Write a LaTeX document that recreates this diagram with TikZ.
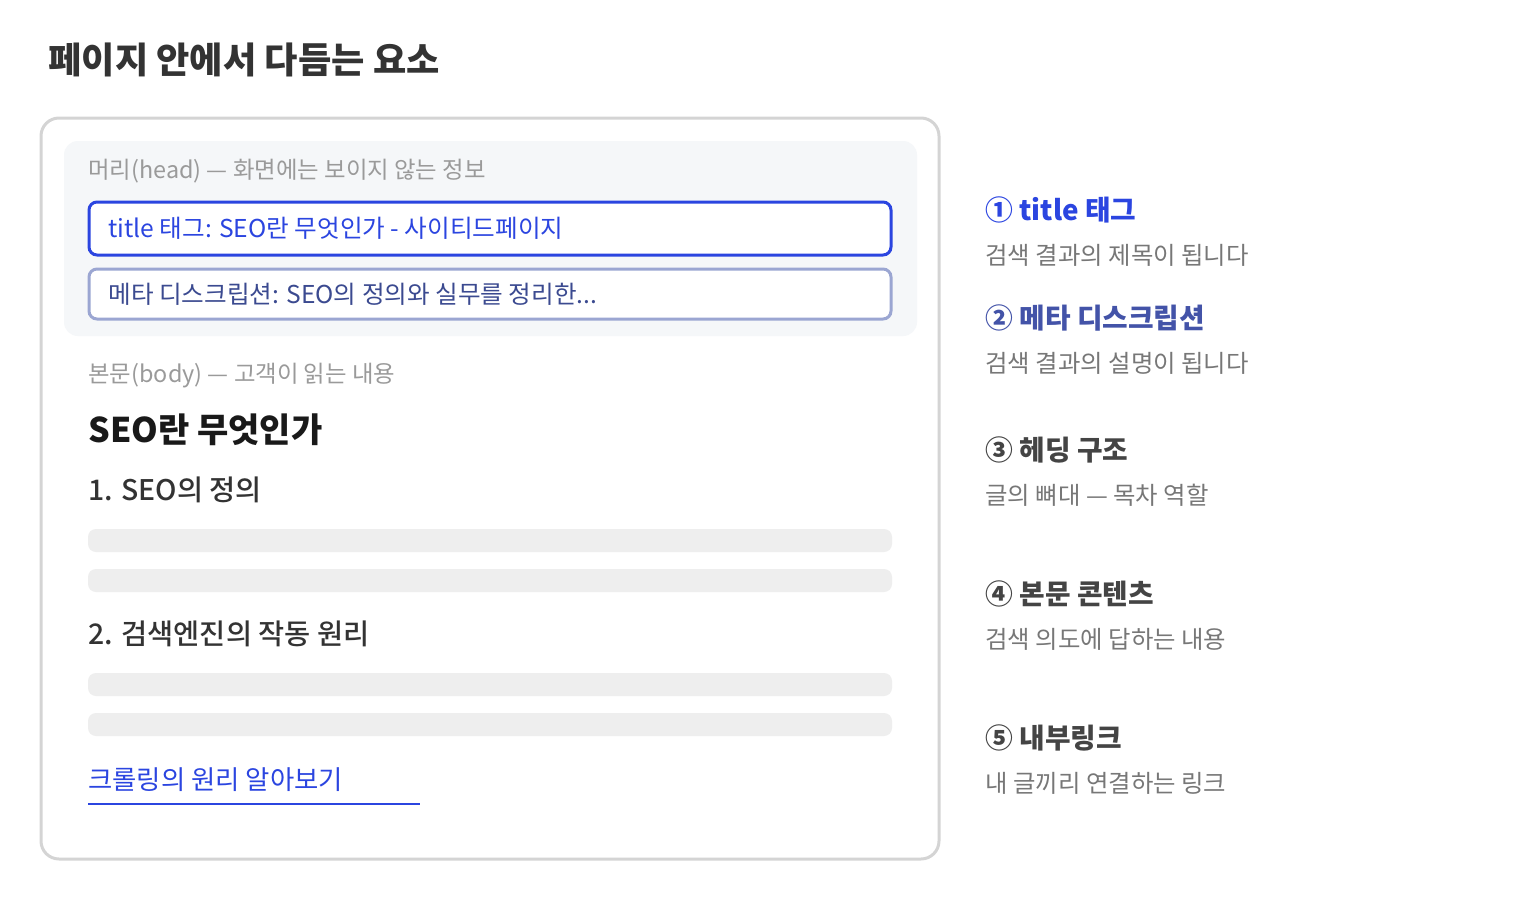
\documentclass[tikz,border=0pt]{standalone}
\usepackage{fontspec}
\setmainfont{Noto Sans CJK KR}
\newfontfamily\medfont{Noto Sans CJK KR Medium}

\definecolor{inkgray}{HTML}{333333}
\definecolor{labelgray}{HTML}{9A9A9A}
\definecolor{descgray}{HTML}{777777}
\definecolor{framegray}{HTML}{D4D4D4}
\definecolor{panelgray}{HTML}{F5F7F9}
\definecolor{bargray}{HTML}{EEEEEE}
\definecolor{tagblue}{HTML}{2B45E0}
\definecolor{metaline}{HTML}{9BA6D2}
\definecolor{metatext}{HTML}{3B4A90}
\definecolor{metahead}{HTML}{4353A8}
\definecolor{stepgray}{HTML}{444444}

\tikzset{
	pagetitle/.style = {font = \fontsize{18.1pt}{22pt}\selectfont\bfseries, text = inkgray},
	hint/.style = {font = \fontsize{11.7pt}{14pt}\selectfont, text = labelgray},
	tagtext/.style = {font = \fontsize{12.3pt}{15pt}\selectfont},
	bar/.style = {fill = bargray, rounded corners = 4pt},
	subhead/.style = {font = \fontsize{14.2pt}{17pt}\selectfont\medfont, text = inkgray},
	stephead/.style = {font = \fontsize{13.9pt}{17pt}\selectfont\bfseries},
	stepdesc/.style = {font = \fontsize{12.2pt}{15pt}\selectfont, text = descgray}
}

\begin{document}
\begin{tikzpicture}[x = 0.5pt, y = -0.5pt, every node/.style = {inner sep = 0, anchor = base west}]

	\useasboundingbox (0, 0) rectangle (1520, 900);

	\node [pagetitle] (title) at (48, 73) {페이지 안에서 다듬는 요소};

	% page frame and head panel
	\draw [draw = framegray, line width = 1.5pt, fill = white, rounded corners = 9pt] (41, 118) rectangle (939, 859);
	\fill [panelgray, rounded corners = 7pt] (64, 141) rectangle (917, 336);

	\node [hint] (headlabel) at (88, 178.5) {머리(head) — 화면에는 보이지 않는 정보};

	\draw [draw = tagblue, line width = 1.5pt, fill = white, rounded corners = 4pt] (89, 202) rectangle (891, 255);
	\node [tagtext, text = tagblue] (titletag) at (108, 237) {title 태그: SEO란 무엇인가 - 사이티드페이지};

	\draw [draw = metaline, line width = 1.5pt, fill = white, rounded corners = 4pt] (89, 269) rectangle (891, 319);
	\node [tagtext, text = metatext] (metatag) at (108, 303) {메타 디스크립션: SEO의 정의와 실무를 정리한...};

	% body
	\node [hint] (bodylabel) at (88, 382.5) {본문(body) — 고객이 읽는 내용};
	\node [font = \fontsize{17pt}{20pt}\selectfont\bfseries, text = black!90] (hone) at (88, 442) {SEO란 무엇인가};

	\node [subhead] (htwoa) at (88, 500) {1. SEO의 정의};
	\fill [bar] (88, 529) rectangle (892, 552);
	\fill [bar] (88, 569) rectangle (892, 592);

	\node [subhead] (htwob) at (88, 644) {2. 검색엔진의 작동 원리};
	\fill [bar] (88, 673) rectangle (892, 696);
	\fill [bar] (88, 713) rectangle (892, 736);

	\node [font = \fontsize{13.2pt}{16pt}\selectfont, text = tagblue] (link) at (88, 789.5) {크롤링의 원리 알아보기};
	\draw [tagblue, line width = 1pt] (88, 804) -- (420, 804);

	% legend on the right
	\node [stephead, text = tagblue] (stepa) at (985, 220) {① title 태그};
	\node [stepdesc] (desca) at (985, 264) {검색 결과의 제목이 됩니다};

	\node [stephead, text = metahead] (stepb) at (985, 328) {② 메타 디스크립션};
	\node [stepdesc] (descb) at (985, 372) {검색 결과의 설명이 됩니다};

	\node [stephead, text = stepgray] (stepc) at (985, 460) {③ 헤딩 구조};
	\node [stepdesc] (descc) at (985, 504) {글의 뼈대 — 목차 역할};

	\node [stephead, text = stepgray] (stepd) at (985, 604) {④ 본문 콘텐츠};
	\node [stepdesc] (descd) at (985, 648) {검색 의도에 답하는 내용};

	\node [stephead, text = stepgray] (stepe) at (985, 748) {⑤ 내부링크};
	\node [stepdesc] (desce) at (985, 792) {내 글끼리 연결하는 링크};

\end{tikzpicture}
\end{document}
